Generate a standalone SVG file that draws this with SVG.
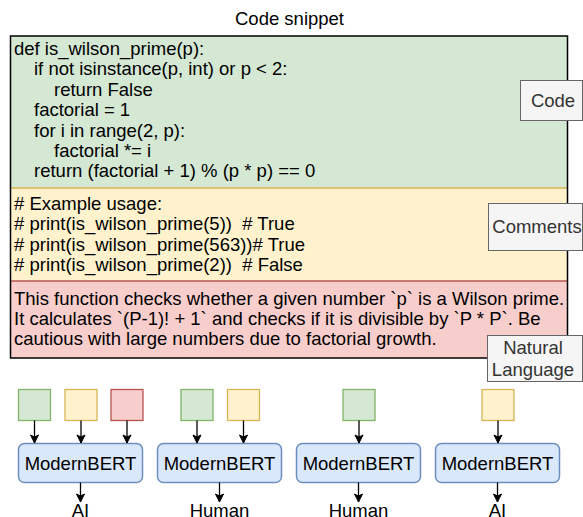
<svg xmlns="http://www.w3.org/2000/svg" width="583" height="517" viewBox="0 0 583 517">
<defs>
<marker id="ah" markerWidth="10" markerHeight="10" refX="9" refY="5" orient="auto" markerUnits="userSpaceOnUse">
<path d="M1,1 L9,5 L1,9 L3,5 Z" fill="#000" stroke="#000" stroke-width="1"/>
</marker>
</defs>
<style>
text{font-family:"Liberation Sans",Arial,Helvetica,sans-serif;font-size:18.5px;fill:#000}
.lbl rect{fill:#f5f5f5;stroke:#666;stroke-width:1}
.lbl text{fill:#333;text-anchor:middle}
.g{fill:#d5e8d4;stroke:#82b366;stroke-width:1.3}
.y{fill:#fff2cc;stroke:#d6b656;stroke-width:1.3}
.r{fill:#f8cecc;stroke:#b85450;stroke-width:1.3}
.m rect{fill:#dae8fc;stroke:#6c8ebf;stroke-width:1.5}
.c{text-anchor:middle}
.conn line{stroke:#000;stroke-width:1.3;marker-end:url(#ah)}
</style>
<g id="title"><text class="c" x="289.5" y="25">Code snippet</text></g>
<g id="snippet">
<rect x="10.5" y="36" width="557" height="152" fill="#d5e8d4"/>
<rect x="10.5" y="188" width="557" height="93" fill="#fff2cc"/>
<rect x="10.5" y="281" width="557" height="77" fill="#f8cecc"/>
<line x1="10.5" y1="188" x2="567.5" y2="188" stroke="#d6b656" stroke-width="1.5"/>
<line x1="10.5" y1="281" x2="567.5" y2="281" stroke="#b85450" stroke-width="1.5"/>
<rect x="10.5" y="36" width="557" height="322" fill="none" stroke="#000" stroke-width="1.5"/>
<text x="14" y="55">def is_wilson_prime(p):</text>
<text x="34" y="75.4">if not isinstance(p, int) or p &lt; 2:</text>
<text x="54" y="95.8">return False</text>
<text x="34" y="116.2">factorial = 1</text>
<text x="34" y="136.6">for i in range(2, p):</text>
<text x="54" y="157">factorial *= i</text>
<text x="34" y="177.4">return (factorial + 1) % (p * p) == 0</text>
<text x="14" y="210" xml:space="preserve"># Example usage:</text>
<text x="14" y="230.3" xml:space="preserve"># print(is_wilson_prime(5))  # True</text>
<text x="14" y="250.6" xml:space="preserve"># print(is_wilson_prime(563))# True</text>
<text x="14" y="271" xml:space="preserve"># print(is_wilson_prime(2))  # False</text>
<text x="14" y="305">This function checks whether a given number `p` is a Wilson prime.</text>
<text x="14" y="325">It calculates `(P-1)! + 1` and checks if it is divisible by `P * P`. Be</text>
<text x="14" y="345">cautious with large numbers due to factorial growth.</text>
</g>
<g id="label-code" class="lbl"><rect x="520.5" y="80.5" width="62" height="40"/><text x="553" y="106.5">Code</text></g>
<g id="label-comments" class="lbl"><rect x="488.5" y="203.5" width="94" height="47"/><text x="537" y="232.5">Comments</text></g>
<g id="label-natural" class="lbl"><rect x="487.5" y="335.5" width="95" height="46"/><text x="533" y="353.5">Natural</text><text x="533" y="375.5">Language</text></g>
<g id="sq1g"><rect class="g" x="18.5" y="389.5" width="32" height="31"/></g>
<g id="sq1y"><rect class="y" x="65" y="389.5" width="32" height="31"/></g>
<g id="sq1r"><rect class="r" x="111" y="389.5" width="32" height="31"/></g>
<g id="sq2g"><rect class="g" x="181" y="389.5" width="32" height="31"/></g>
<g id="sq2y"><rect class="y" x="227.5" y="389.5" width="32" height="31"/></g>
<g id="sq3g"><rect class="g" x="343" y="389.5" width="32" height="31"/></g>
<g id="sq4y"><rect class="y" x="482" y="389.5" width="32" height="31"/></g>
<g id="mb1" class="m"><rect x="18.5" y="443.5" width="124" height="39" rx="6"/><text class="c" x="80.5" y="469.5">ModernBERT</text></g>
<g id="mb2" class="m"><rect x="157.5" y="443.5" width="124" height="39" rx="6"/><text class="c" x="219.5" y="469.5">ModernBERT</text></g>
<g id="mb3" class="m"><rect x="296.5" y="443.5" width="124" height="39" rx="6"/><text class="c" x="358.5" y="469.5">ModernBERT</text></g>
<g id="mb4" class="m"><rect x="435.5" y="443.5" width="124" height="39" rx="6"/><text class="c" x="497.5" y="469.5">ModernBERT</text></g>
<g id="out1"><text class="c" x="80.5" y="516.5">AI</text></g>
<g id="out2"><text class="c" x="219.5" y="516.5">Human</text></g>
<g id="out3"><text class="c" x="358.5" y="516.5">Human</text></g>
<g id="out4"><text class="c" x="497.5" y="516.5">AI</text></g>
<g id="connectors" class="conn">
<line x1="34.5" y1="420.5" x2="34.5" y2="443"/>
<line x1="81" y1="420.5" x2="81" y2="443"/>
<line x1="127" y1="420.5" x2="127" y2="443"/>
<line x1="197" y1="420.5" x2="197" y2="443"/>
<line x1="243.5" y1="420.5" x2="243.5" y2="443"/>
<line x1="359" y1="420.5" x2="359" y2="443"/>
<line x1="498" y1="420.5" x2="498" y2="443"/>
<line x1="80.5" y1="482.5" x2="80.5" y2="502"/>
<line x1="219.5" y1="482.5" x2="219.5" y2="502"/>
<line x1="358.5" y1="482.5" x2="358.5" y2="502"/>
<line x1="497.5" y1="482.5" x2="497.5" y2="502"/>
</g>
</svg>
